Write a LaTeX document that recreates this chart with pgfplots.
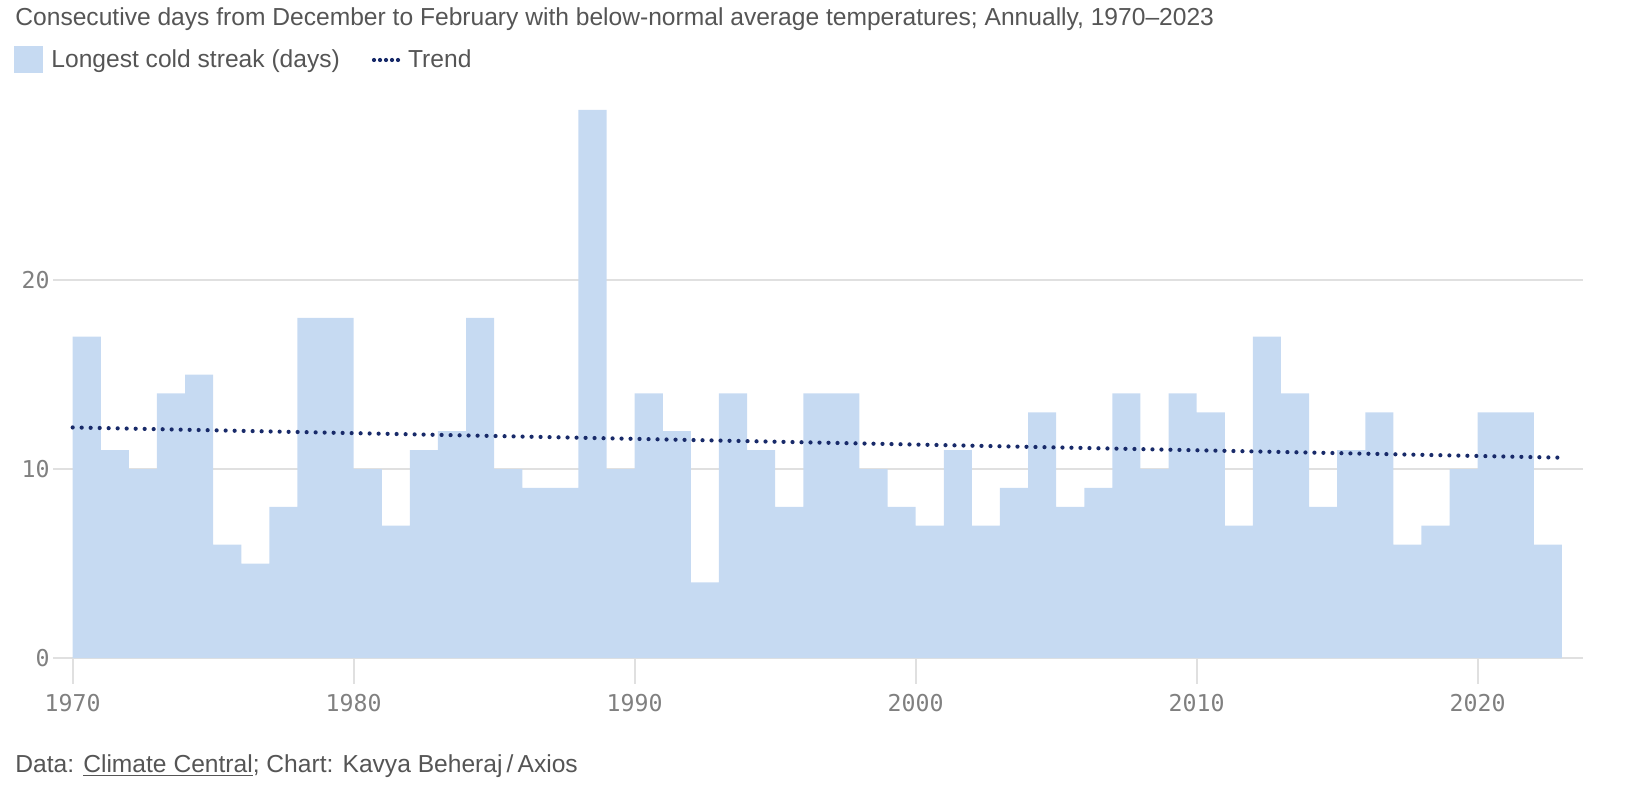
\documentclass[border=0pt]{standalone}
\usepackage{pgfplots}
\usepackage{pgfplotstable}
\pgfplotsset{compat=1.18}
\usepackage{fontspec}
\setmainfont{Liberation Sans}
\newfontfamily\monofont{DejaVu Sans Mono}

\definecolor{barblue}{RGB}{198,218,242}
\definecolor{trendnavy}{RGB}{24,42,105}
\definecolor{gridgrey}{RGB}{224,224,224}
\definecolor{textgrey}{RGB}{85,85,85}
\definecolor{tickgrey}{RGB}{128,128,128}

\newcommand{\txt}{\fontsize{12.3bp}{15bp}\selectfont}

% longest cold streak, Dec-Feb, days (last row only closes the step)
\pgfplotstableread{
year days
1970 17
1971 11
1972 10
1973 14
1974 15
1975 6
1976 5
1977 8
1978 18
1979 18
1980 10
1981 7
1982 11
1983 12
1984 18
1985 10
1986 9
1987 9
1988 29
1989 10
1990 14
1991 12
1992 4
1993 14
1994 11
1995 8
1996 14
1997 14
1998 10
1999 8
2000 7
2001 11
2002 7
2003 9
2004 13
2005 8
2006 9
2007 14
2008 10
2009 14
2010 13
2011 7
2012 17
2013 14
2014 8
2015 11
2016 13
2017 6
2018 7
2019 10
2020 13
2021 13
2022 6
2023 6
}\streak

\begin{document}
\begin{tikzpicture}
\useasboundingbox (-26.5bp,-70bp) rectangle (790.5bp,329bp);
\begin{axis}[
    at={(0,0)}, anchor=south west,
    scale only axis,
    width=765bp, height=278.75bp,
    xmin=1969.3, xmax=2023.75,
    ymin=0, ymax=29.5,
    axis line style={draw=none},
    xtick={1970,1980,...,2020},
    ytick={0,10,20},
    ymajorgrids,
    major grid style={draw=gridgrey, line width=1bp},
    tick align=outside,
    xtick pos=bottom,
    major tick length=13bp,
    xtick style={draw=gridgrey, line width=1bp},
    ytick style={draw=none},
    /pgf/number format/assume math mode=true,
    /pgf/number format/1000 sep={},
    xticklabel style={font=\monofont\fontsize{11.6bp}{13bp}\selectfont, text=tickgrey,
        anchor=north, inner sep=0pt, yshift=-5bp},
    yticklabel style={font=\monofont\fontsize{11.6bp}{13bp}\selectfont, text=tickgrey,
        anchor=east, inner sep=0pt, xshift=11.5bp},
    legend columns=2,
    legend cell align=left,
    legend style={draw=none, fill=none, at={(axis description cs:0,1)}, anchor=west,
        xshift=-19.5bp, yshift=20.25bp, inner sep=0pt, font=\txt, text=textgrey,
        nodes={inner sep=0pt},
        /tikz/every odd column/.append style={column sep=4bp},
        /tikz/every even column/.append style={column sep=16bp}},
]
\addplot[const plot, fill=barblue, draw=none,
    legend image code/.code={\fill[barblue] (0bp,-6.75bp) rectangle (14.5bp,6.75bp);}]
    table[x=year, y=days] {\streak} \closedcycle;
\addlegendentry{Longest cold streak (days)}
\addplot[trendnavy, line width=2.1bp, dash pattern=on 0pt off 4.5bp, line cap=round,
    legend image code/.code={\draw[trendnavy, line width=2.1bp, dash pattern=on 0pt off 3bp, line cap=round] (0.5bp,0) -- (12.5bp,0);}]
    coordinates {(1970,12.2) (2023,10.6)};
\addlegendentry{Trend}
\end{axis}
\node[anchor=base west, inner sep=0pt, font=\txt, text=textgrey] at (-19bp,316bp)
    {Consecutive days from December to February with below-normal average temperatures; Annually, 1970–2023};
\node[anchor=base west, inner sep=0pt, font=\txt, text=textgrey] at (-19bp,-57bp)
    {Data: \underline{Climate Central}; Chart: Kavya Beheraj\,/\,Axios};
\end{tikzpicture}
\end{document}
